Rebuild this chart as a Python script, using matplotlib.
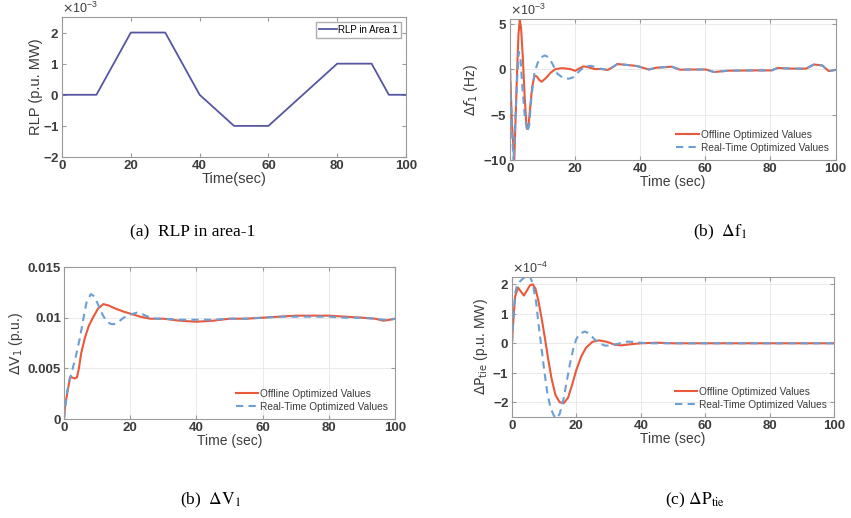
import numpy as np
import matplotlib
matplotlib.use("Agg")
import matplotlib.pyplot as plt
from matplotlib.ticker import ScalarFormatter, FuncFormatter

plt.rcParams['font.family'] = ['Liberation Sans', 'DejaVu Sans']
plt.rcParams['axes.unicode_minus'] = False
plt.rcParams['mathtext.fontset'] = 'dejavusans'

# ---- data ----
# (a) RLP in area 1, x1e-3 p.u. MW
rlp_t = [0, 10, 20, 30, 40, 50, 60, 80, 90, 95, 100]
rlp_v = [0, 0, 2, 2, 0, -1, -1, 1, 1, 0, 0]

# (b) delta f1, x1e-3 Hz
f1_off_t = [0, 0.6, 1.3, 2.2, 2.6, 3.0, 3.4, 3.9, 4.5, 5.0, 5.3, 5.7, 6.2, 6.8, 7.5, 8.2, 9.0, 9.7,
            11, 12.5, 14, 16, 18.5, 20, 21.5, 22.6, 24, 26, 28, 30, 31.5, 33, 36, 39, 42.7, 45,
            49.7, 52.2, 56, 60.2, 62.7, 67, 75, 80.3, 82.3, 86, 90.9, 93.4, 95.9, 97.9, 100]
f1_off_v = [0, -6, -10.1, 0, 3.8, 5.4, 4.5, 1.5, -3, -6.0, -6.6, -6.2, -4.2, -2.0, -0.75, -0.8, -1.2, -1.4,
            -1.0, -0.4, 0.0, 0.1, 0.0, -0.2, 0.1, 0.3, 0.2, 0.0, 0.0, -0.1, 0.2, 0.55, 0.45, 0.33, -0.05, 0.15,
            0.26, -0.07, -0.05, -0.05, -0.33, -0.18, -0.15, -0.15, 0.12, 0.05, 0.04, 0.5, 0.4, -0.22, -0.1]
f1_rt_t = [0, 0.5, 1.1, 1.7, 2.2, 2.7, 3.2, 3.8, 4.5, 5.3, 5.9, 6.6, 7.5, 8.5, 9.6, 10.7, 11.8, 13,
           14.5, 16, 18, 19.5, 21, 23, 25, 27, 30, 31.5, 33, 36, 39, 42.7, 45,
           49.7, 52.2, 56, 60.2, 62.7, 67, 75, 80.3, 82.3, 86, 90.9, 93.4, 95.9, 97.9, 100]
f1_rt_v = [0, -6, -10.3, -5, -1, 1.9, 1.2, -2, -5, -6.9, -6.2, -3, -0.5, 0.7, 1.3, 1.5, 1.3, 0.6,
           -0.5, -0.9, -1.07, -0.9, -0.33, 0.3, 0.35, 0.1, -0.1, 0.2, 0.55, 0.45, 0.33, -0.05, 0.15,
           0.26, -0.07, -0.05, -0.05, -0.33, -0.18, -0.15, -0.15, 0.12, 0.05, 0.04, 0.5, 0.4, -0.22, -0.1]

# (c) delta V1, p.u.
v1_off_t = [0, 0.3, 0.8, 1.4, 1.8, 2.5, 3.2, 3.9, 4.5, 5.2, 6.3, 7.5, 8.9, 10.3, 11.9, 13.5, 15.5, 18,
            20, 23, 26, 30, 35, 40, 45, 50, 55, 60, 65, 70, 75, 80, 85, 90, 94, 96.5, 98.5, 100]
v1_off_v = [0, 0.0012, 0.0022, 0.0033, 0.0041, 0.0041, 0.0040, 0.0041, 0.0050, 0.0065, 0.0080, 0.0092,
            0.0101, 0.0109, 0.01134, 0.0112, 0.0109, 0.0106, 0.0104, 0.0101, 0.0099, 0.0099, 0.0097,
            0.0096, 0.0097, 0.0099, 0.0099, 0.0100, 0.0101, 0.0102, 0.0102, 0.0102, 0.0101, 0.0100,
            0.0099, 0.0097, 0.0098, 0.0099]
v1_rt_t = [0, 0.5, 1.0, 1.8, 2.8, 3.8, 4.8, 5.8, 6.8, 8.1, 9.2, 10.3, 11.5, 12.7, 14.0, 15.0, 16.5, 18,
           20, 22, 24, 26, 28, 30, 35, 40, 45, 50, 55, 60, 65, 70, 75, 80, 85, 90, 94, 96.5, 98.5, 100]
v1_rt_v = [0, 0.0015, 0.0028, 0.0040, 0.0052, 0.0065, 0.0080, 0.0098, 0.0115, 0.01233, 0.0121, 0.0113,
           0.0104, 0.0097, 0.0094, 0.00935, 0.0096, 0.0100, 0.0103, 0.0105, 0.0103, 0.0100, 0.0099,
           0.0099, 0.0098, 0.0098, 0.0098, 0.0099, 0.0099, 0.0100, 0.0101, 0.0101, 0.0101, 0.0101,
           0.0100, 0.0100, 0.0099, 0.0098, 0.0098, 0.0099]

# (d) delta P_tie, x1e-4 p.u. MW
pt_off_t = [0, 0.5, 1.0, 1.9, 2.8, 3.7, 4.7, 5.6, 6.5, 7.3, 8.2, 9.2, 10.2, 11.2, 12.3, 13.5, 14.8,
            16.1, 17.4, 18.7, 20, 21.5, 23, 25, 27, 29.5, 32, 34, 37, 40, 45, 50, 100]
pt_off_v = [0, 0.9, 1.6, 1.89, 1.75, 1.62, 1.8, 1.97, 2.0, 1.85, 1.45, 0.85, 0.2, -0.5, -1.2, -1.75,
            -2.0, -2.03, -1.85, -1.4, -0.9, -0.45, -0.15, 0.05, 0.1, 0.05, -0.05, -0.07, -0.03, 0.0,
            0.02, 0.0, 0.0]
pt_rt_t = [0, 0.5, 1.0, 1.6, 2.5, 3.5, 4.5, 5.5, 6.5, 7.5, 8.3, 9.0, 10.0, 11.0, 12.0, 13.0, 13.8,
           14.8, 16, 17, 18, 19, 20, 21, 22.6, 24, 25.5, 27, 29, 31, 33.5, 36, 39, 42, 100]
pt_rt_v = [0, 1.0, 1.7, 2.0, 2.1, 2.2, 2.3, 2.3, 2.0, 1.4, 0.6, 0.0, -0.9, -1.7, -2.2, -2.45, -2.55,
           -2.4, -1.9, -1.3, -0.7, -0.2, 0.15, 0.32, 0.40, 0.33, 0.15, 0.0, -0.08, -0.07, 0.0, 0.06,
           0.03, 0.0, 0.0]

c_off = '#e9593a'
c_rt = '#6c9fd6'
c_rlp = '#5656a3'
c_txt = '#3c3c3c'
names = ["Offline Optimized Values", "Real-Time Optimized Values"]

fig = plt.figure(figsize=(8.51, 5.18), dpi=100)
ax_a = fig.add_axes([0.0729, 0.6969, 0.4042, 0.2703])
ax_b = fig.add_axes([0.5993, 0.6911, 0.3825, 0.2722])
ax_c = fig.add_axes([0.0752, 0.1911, 0.3890, 0.2934])
ax_d = fig.add_axes([0.6016, 0.1950, 0.3784, 0.2703])


def style(ax, grid=True):
    for s in ax.spines.values():
        s.set_color('#9a9a9a')
        s.set_linewidth(0.8)
    ax.tick_params(direction='in', length=3, top=True, right=True, color='#9a9a9a',
                   labelsize=9.5, labelcolor=c_txt, pad=2)
    for lb in ax.get_xticklabels() + ax.get_yticklabels():
        lb.set_fontweight('bold')
    if grid:
        ax.grid(True, color='#e6e6e6', linewidth=0.6)
        ax.set_axisbelow(True)
    ax.set_xlim(0, 100)
    ax.set_xticks([0, 20, 40, 60, 80, 100])
    ax.set_xlabel("Time (sec)", fontsize=10, color=c_txt, labelpad=0)


def sci(ax, p):
    fm = ScalarFormatter(useMathText=True)
    fm.set_powerlimits((p, p))
    ax.yaxis.set_major_formatter(fm)
    ax.yaxis.get_offset_text().set_fontsize(9)
    ax.yaxis.get_offset_text().set_color(c_txt)


# (a)
ax_a.plot(rlp_t, np.array(rlp_v) * 1e-3, color=c_rlp, lw=1.3, label="RLP in Area 1")
ax_a.set_ylim(-2e-3, 2.5e-3)
ax_a.set_yticks(np.array([-2, -1, 0, 1, 2]) * 1e-3)
sci(ax_a, -3)
style(ax_a, grid=False)
ax_a.set_xlabel("Time(sec)", fontsize=10.5, color=c_txt, labelpad=0)
ax_a.set_ylabel("RLP (p.u. MW)", fontsize=10.5, color=c_txt, labelpad=0)
ax_a.legend(loc='upper right', fontsize=7, frameon=True, fancybox=False, edgecolor='#9a9a9a',
            handlelength=1.8, borderpad=0.3, handletextpad=0.2, borderaxespad=0.5)

# (b)
ax_b.plot(f1_off_t, np.array(f1_off_v) * 1e-3, color=c_off, lw=1.5, label=names[0])
ax_b.plot(f1_rt_t, np.array(f1_rt_v) * 1e-3, color=c_rt, lw=1.5, ls=(0, (3.5, 2.5)), label=names[1])
ax_b.set_ylim(-10e-3, 5.5e-3)
ax_b.set_yticks(np.array([-10, -5, 0, 5]) * 1e-3)
sci(ax_b, -3)
style(ax_b)
ax_b.set_ylabel(r"$\Delta f_1$ (Hz)", fontsize=10, color=c_txt, labelpad=2)

# (c)
ax_c.plot(v1_off_t, v1_off_v, color=c_off, lw=1.5, label=names[0])
ax_c.plot(v1_rt_t, v1_rt_v, color=c_rt, lw=1.5, ls=(0, (3.5, 2.5)), label=names[1])
ax_c.set_ylim(0, 0.015)
ax_c.set_yticks([0, 0.005, 0.01, 0.015])
ax_c.yaxis.set_major_formatter(FuncFormatter(lambda v, p: "%g" % round(v, 4)))
style(ax_c)
ax_c.set_ylabel(r"$\Delta \mathrm{V}_1$ (p.u.)", fontsize=10, color=c_txt, labelpad=2)

# (d)
ax_d.plot(pt_off_t, np.array(pt_off_v) * 1e-4, color=c_off, lw=1.5, label=names[0])
ax_d.plot(pt_rt_t, np.array(pt_rt_v) * 1e-4, color=c_rt, lw=1.5, ls=(0, (3.5, 2.5)), label=names[1])
ax_d.set_ylim(-2.5e-4, 2.25e-4)
ax_d.set_yticks(np.array([-2, -1, 0, 1, 2]) * 1e-4)
sci(ax_d, -4)
style(ax_d)
ax_d.set_ylabel(r"$\Delta \mathrm{P}_{\mathrm{tie}}$ (p.u. MW)", fontsize=10, color=c_txt, labelpad=2)

for ax in (ax_b, ax_c, ax_d):
    leg = ax.legend(loc='lower right', fontsize=7.3, frameon=False, handlelength=2.2,
                    handletextpad=0.2, labelspacing=0.3, borderaxespad=0.3)
    for t in leg.get_texts():
        t.set_color(c_txt)

# captions
cap = dict(fontsize=12.5, family='Liberation Serif', va='center', ha='left',
           math_fontfamily='stix')
fig.text(130 / 851, 1 - 232 / 518, "(a)  RLP in area-1", **cap)
fig.text(693 / 851, 1 - 232 / 518, r"(b)  $\Delta\mathrm{f}_{1}$", **cap)
fig.text(180 / 851, 1 - 500 / 518, r"(b)  $\Delta\mathrm{V}_{1}$", **cap)
fig.text(665 / 851, 1 - 500 / 518, r"(c) $\Delta\mathrm{P}_{\mathrm{tie}}$", **cap)

fig.savefig("out.png", dpi=100)
